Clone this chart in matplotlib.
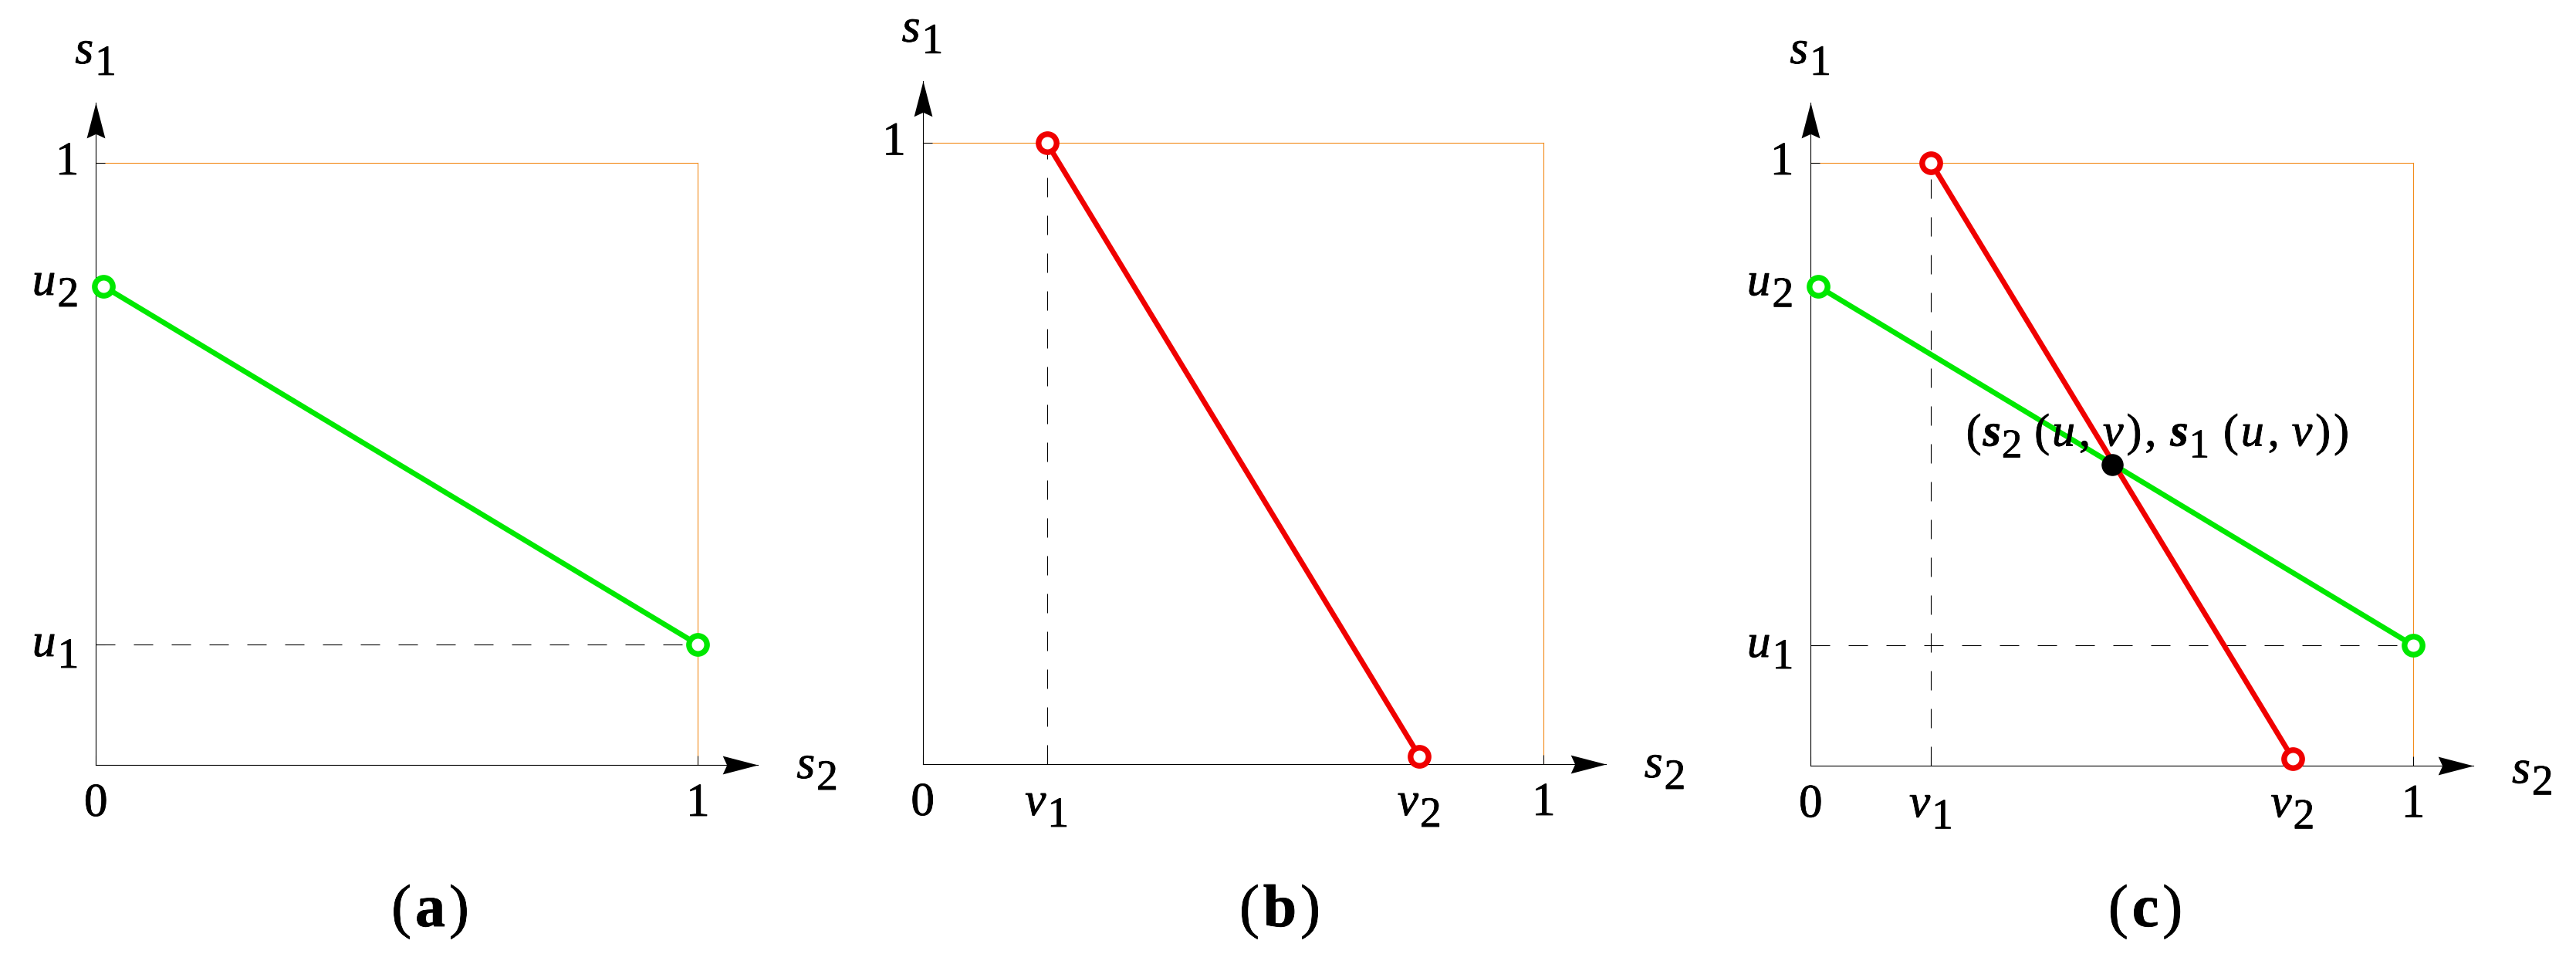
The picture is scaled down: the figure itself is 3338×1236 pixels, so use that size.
import os
import matplotlib
matplotlib.use("Agg")
import matplotlib.pyplot as plt
import matplotlib.patheffects as pe
from matplotlib.transforms import IdentityTransform
from matplotlib.path import Path
from matplotlib import font_manager as fm
from matplotlib.font_manager import FontProperties

# ---------------- data ----------------
u1, u2 = 0.2, 0.8
v1, v2 = 0.2, 0.8
green_s2 = [0.0125, 1.0]
green_s1 = [0.795, 0.2]
red_s2 = [0.2, 0.8]
red_s1 = [1.0, 0.0125]
eq_s2 = [0.5]
eq_s1 = [0.5]
panel_letters = ["a", "b", "c"]

# ---------------- layout / style ----------------
W, H, DPI = 3338, 1236, 100
GREEN = "#00E800"
RED = "#F00000"
ORANGE = "#F28C1C"
FS, FS_SUB, DROP = 44, 40, 15
LW, MS, MEW = 4.9, 16.8, 5.3
STROKE = [pe.withStroke(linewidth=0.6, foreground="black")]
# (left px, axis-y px from top, width px, height px)
boxes = [(124.3, 991.0, 780.0, 780.0),
         (1195.7, 990.0, 804.6, 804.7),
         (2346.3, 992.3, 780.7, 781.3)]
letter_pos = [(557.5, 1200), (1658.5, 1200), (2780, 1200)]

# ---- locate a Times-like serif font (Liberation Serif) by file ----
FILES = {}
for f in fm.fontManager.ttflist:
    FILES[os.path.basename(f.fname).lower()] = f.fname


def serif(size, style="normal", weight="normal"):
    key = {("normal", "normal"): "liberationserif-regular.ttf",
           ("italic", "normal"): "liberationserif-italic.ttf",
           ("normal", "bold"): "liberationserif-bold.ttf",
           ("italic", "bold"): "liberationserif-bolditalic.ttf"}[(style, weight)]
    if key in FILES:
        return FontProperties(fname=FILES[key], size=size)
    return FontProperties(family=["Liberation Serif", "DejaVu Serif"], style=style,
                          weight=weight, size=size)


fig = plt.figure(figsize=(W / DPI, H / DPI), dpi=DPI)
fig.patch.set_facecolor("white")

pending = []


def rich(ax, x, y, runs, ha="center", dx=0.0, dy=0.0):
    """runs: (text, size, style, weight, drop_px, gap_before_px)"""
    objs = []
    for s, size, style, weight, drop, gap in runs:
        t = fig.text(0, 0, s, fontproperties=serif(size, style, weight),
                     transform=IdentityTransform(), ha="left", va="baseline",
                     path_effects=STROKE)
        objs.append((t, drop, gap))
    pending.append((ax, x, y, dx, dy, ha, objs))


def sym(base, sub, size=FS, subsize=FS_SUB, style="italic", weight="normal"):
    return [(base, size, style, weight, 0, 0), (sub, subsize, "normal", "normal", DROP, 2)]


def plain(s, size=FS):
    return [(s, size, "normal", "normal", 0, 0)]


arrow_x = Path([(0, 0), (-1, 0.26), (-0.88, 0), (-1, -0.26), (0, 0)],
               [Path.MOVETO, Path.LINETO, Path.LINETO, Path.LINETO, Path.CLOSEPOLY])
arrow_y = Path([(0, 0), (0.26, -1), (0, -0.88), (-0.26, -1), (0, 0)],
               [Path.MOVETO, Path.LINETO, Path.LINETO, Path.LINETO, Path.CLOSEPOLY])

axes = []
for (l, b, w, h) in boxes:
    ax = fig.add_axes([l / W, (H - b) / H, w / W, h / H])
    ax.set_xlim(0, 1)
    ax.set_ylim(0, 1)
    ax.patch.set_alpha(0)
    for sp in ax.spines.values():
        sp.set_visible(False)
    ax.tick_params(direction="in", length=8.6, width=0.75, color="k",
                   labelbottom=False, labelleft=False, top=False, right=False)
    ax.plot([0, 1], [1, 1], color=ORANGE, lw=0.8, clip_on=False, zorder=1)
    ax.plot([1, 1], [0, 1], color=ORANGE, lw=0.8, clip_on=False, zorder=1)
    ax.plot([0, 1.1], [0, 0], color="k", lw=0.8, clip_on=False, zorder=2)
    ax.plot([0, 0], [0, 1.1], color="k", lw=0.8, clip_on=False, zorder=2)
    ax.plot([1.1], [0], marker=arrow_x, ms=66, mfc="k", mew=0, color="k", clip_on=False)
    ax.plot([0], [1.1], marker=arrow_y, ms=66, mfc="k", mew=0, color="k", clip_on=False)
    axes.append(ax)

axa, axb, axc = axes
DASH = (0, (22.5, 21.6))


def seg(ax, xs, ys, color, z):
    ax.plot(xs, ys, color=color, lw=LW, marker="o", ms=MS, mew=MEW,
            mfc="white", mec=color, clip_on=False, zorder=z, solid_capstyle="butt")


# panel a
axa.set_xticks([0, 1])
axa.set_yticks([u1, u2, 1])
axa.plot([0, 1], [u1, u1], color="k", lw=0.8, ls=DASH, clip_on=False)
seg(axa, green_s2, green_s1, GREEN, 3)

# panel b
axb.set_xticks([0, v1, v2, 1])
axb.set_yticks([1])
axb.plot([v1, v1], [0, 1], color="k", lw=0.8, ls=DASH, clip_on=False)
seg(axb, red_s2, red_s1, RED, 3)

# panel c
axc.set_xticks([0, v1, v2, 1])
axc.set_yticks([u1, u2, 1])
axc.plot([0, 1], [u1, u1], color="k", lw=0.8, ls=DASH, clip_on=False)
axc.plot([v1, v1], [0, 1], color="k", lw=0.8, ls=DASH, clip_on=False)
seg(axc, green_s2, green_s1, GREEN, 3)
seg(axc, red_s2, red_s1, RED, 3.1)
axc.plot(eq_s2, eq_s1, "o", color="k", ms=19.5, clip_on=False, zorder=5)

# tick labels and axis labels
xt_labels = {
    0: [(0, plain("0")), (1, plain("1"))],
    1: [(0, plain("0")), (v1, sym("v", "1")), (v2, sym("v", "2")), (1, plain("1"))],
    2: [(0, plain("0")), (v1, sym("v", "1")), (v2, sym("v", "2")), (1, plain("1"))],
}
yt_labels = {
    0: [(u1, sym("u", "1")), (u2, sym("u", "2")), (1, plain("1"))],
    1: [(1, plain("1"))],
    2: [(u1, sym("u", "1")), (u2, sym("u", "2")), (1, plain("1"))],
}
s2_drop = [17, 17, 22]
for i, ax in enumerate(axes):
    for xv, runs in xt_labels[i]:
        rich(ax, xv, 0, runs, ha="center", dy=-66)
    for yv, runs in yt_labels[i]:
        rich(ax, 0, yv, runs, ha="right", dx=-22, dy=-15)
    rich(ax, 1.1, 0, sym("s", "2"), ha="left", dx=50, dy=-s2_drop[i])
    rich(ax, 0, 1.1, sym("s", "1"), ha="left", dx=-27, dy=51)

# equilibrium annotation in panel c
FA, FAS = 43, 38
ann = [("(", FA, "normal", "normal", 0, 0),
       ("s", FA, "italic", "bold", 0, 2),
       ("2", FAS, "normal", "normal", DROP, 1),
       ("(", FA, "normal", "normal", 0, 16),
       ("u", FA, "italic", "normal", 0, 3),
       (",", FA, "normal", "normal", 0, 5),
       ("v", FA, "italic", "normal", 0, 16),
       (")", FA, "normal", "normal", 0, 4),
       (",", FA, "normal", "normal", 0, 4),
       ("s", FA, "italic", "bold", 0, 18),
       ("1", FAS, "normal", "normal", DROP, 1),
       ("(", FA, "normal", "normal", 0, 18),
       ("u", FA, "italic", "normal", 0, 3),
       (",", FA, "normal", "normal", 0, 5),
       ("v", FA, "italic", "normal", 0, 16),
       (")", FA, "normal", "normal", 0, 4),
       (")", FA, "normal", "normal", 0, 4)]
rich(axc, 0.258, 0.531, ann, ha="left")

# panel letters
for (px, py), letter in zip(letter_pos, panel_letters):
    runs = [("(", 56, "normal", "normal", 0, 0),
            (letter, 56, "normal", "bold", 0, 5),
            (")", 56, "normal", "normal", 0, 5)]
    rich(None, px, H - py, runs, ha="center")

# ---- lay out rich text runs ----
fig.canvas.draw()
renderer = fig.canvas.get_renderer()
for ax, x, y, dx, dy, ha, objs in pending:
    if ax is None:
        ax_x, ax_y = x, y
    else:
        ax_x, ax_y = ax.transData.transform((x, y))
    ax_x += dx
    ax_y += dy
    widths = [t.get_window_extent(renderer).width for t, _, _ in objs]
    total = sum(widths) + sum(g for _, _, g in objs)
    if ha == "center":
        cur = ax_x - total / 2
    elif ha == "right":
        cur = ax_x - total
    else:
        cur = ax_x
    for (t, drop, gap), wdt in zip(objs, widths):
        cur += gap
        t.set_position((cur, ax_y - drop))
        cur += wdt

fig.savefig("out.png", dpi=DPI, facecolor="white")
